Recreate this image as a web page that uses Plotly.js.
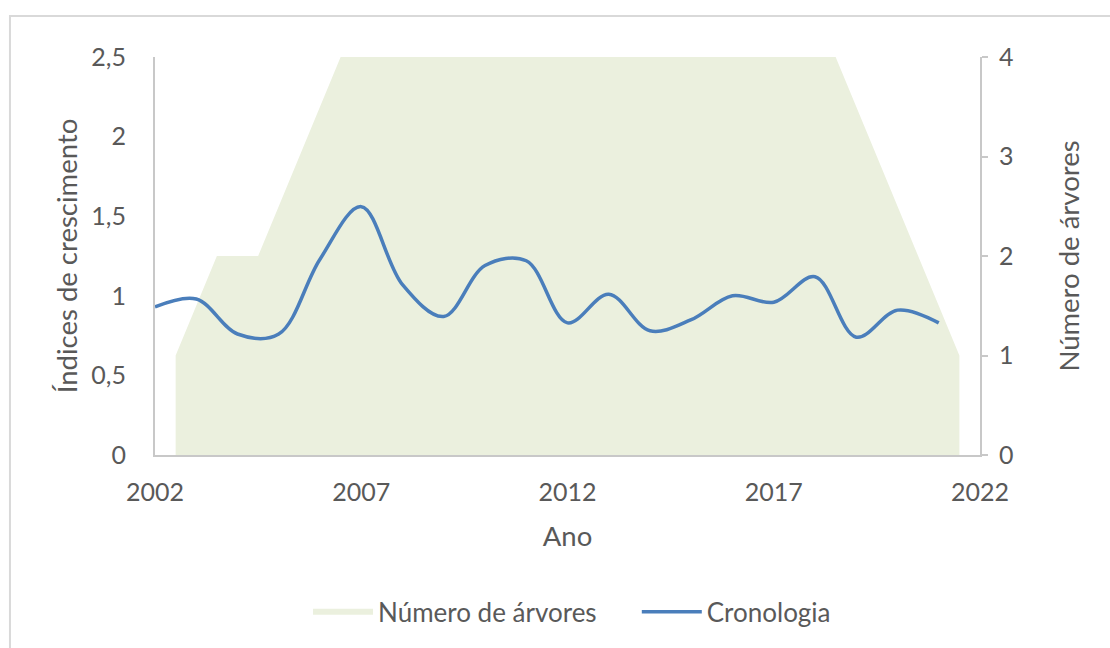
<!DOCTYPE html>
<html>
<head>
<meta charset="utf-8">
<script src="https://cdn.plot.ly/plotly-3.0.1.min.js"></script>
<style>
html,body{margin:0;padding:0;background:#fff;}
#chart{width:1110px;height:648px;}
</style>
</head>
<body>
<div id="chart"></div>
<script>
// Data
const years = [2002,2003,2004,2005,2006,2007,2008,2009,2010,2011,2012,2013,2014,2015,2016,2017,2018,2019,2020,2021];
const cronologia = [0.93,0.98,0.76,0.76,1.23,1.56,1.07,0.87,1.19,1.22,0.83,1.01,0.78,0.85,1.00,0.96,1.12,0.74,0.91,0.83];
const numeroArvores = [1,2,2,3,4,4,4,4,4,4,4,4,4,4,4,4,4,3,2,1];
const xTicks = [2002,2007,2012,2017,2022];

const font = 'Lato, "Open Sans", sans-serif';
const grey = '#595959';
const axisLine = '#C8C8C8';

const traceArea = {
  x: years.map(y => y + 0.5),
  y: numeroArvores,
  name: 'Número de árvores',
  type: 'scatter',
  mode: 'none',
  fill: 'tozeroy',
  fillcolor: '#EBF0DE',
  yaxis: 'y',
  legend: 'legend',
  hoverinfo: 'skip'
};
const traceLine = {
  x: years,
  y: cronologia,
  name: 'Cronologia',
  type: 'scatter',
  mode: 'lines',
  line: {color: '#4A7EBB', width: 3.5, shape: 'spline', smoothing: 1},
  yaxis: 'y2',
  legend: 'legend2'
};

const legendFont = {family: font, size: 26, color: grey};

const layout = {
  width: 1110, height: 648,
  margin: {l: 155, r: 130, t: 57, b: 193},
  paper_bgcolor: '#ffffff', plot_bgcolor: 'rgba(0,0,0,0)',
  separators: ',.',
  font: {family: font, size: 25, color: grey},
  showlegend: true,
  legend: {orientation: 'h', x: 0.1855, xanchor: 'left', y: -0.394, yanchor: 'middle',
           font: legendFont, itemwidth: 60, bgcolor: 'rgba(0,0,0,0)'},
  legend2: {orientation: 'h', x: 0.584, xanchor: 'left', y: -0.394, yanchor: 'middle',
           font: legendFont, itemwidth: 60, bgcolor: 'rgba(0,0,0,0)'},
  xaxis: {
    range: [2002, 2022], tickvals: xTicks, ticktext: xTicks.map(String),
    showgrid: false, zeroline: false, showline: true, linecolor: axisLine, linewidth: 2,
    ticks: '', ticklabelstandoff: 14, tickfont: {family: font, size: 25, color: grey},
    title: {text: 'Ano', font: {family: font, size: 27.5, color: grey}, standoff: 22},
    automargin: false, fixedrange: true
  },
  yaxis: {
    side: 'right', range: [0, 4], dtick: 1, tick0: 0,
    showgrid: false, zeroline: false, showline: true, linecolor: axisLine, linewidth: 2,
    ticks: 'outside', ticklen: 6, tickcolor: axisLine, tickwidth: 2, ticklabelstandoff: 6,
    tickfont: {family: font, size: 25, color: grey},
    title: {text: 'Número de árvores', font: {family: font, size: 27.5, color: grey}, standoff: 47},
    automargin: false, fixedrange: true
  },
  yaxis2: {
    overlaying: 'y', side: 'left', range: [0, 2.5], dtick: 0.5, tick0: 0,
    showgrid: false, zeroline: false, showline: true, linecolor: axisLine, linewidth: 2,
    ticks: '', ticklabelstandoff: 22, tickfont: {family: font, size: 25, color: grey},
    title: {text: 'Índices de crescimento', font: {family: font, size: 27.5, color: grey}, standoff: 6},
    automargin: false, fixedrange: true
  },
  shapes: [{
    type: 'rect', xref: 'paper', yref: 'paper',
    x0: -0.1758, x1: 1.3, y0: -0.7, y1: 1.103,
    line: {color: '#D9D9D9', width: 2}, fillcolor: 'rgba(0,0,0,0)', layer: 'below'
  }]
};

Plotly.newPlot('chart', [traceArea, traceLine], layout, {displayModeBar: false, staticPlot: true});
</script>
</body>
</html>
